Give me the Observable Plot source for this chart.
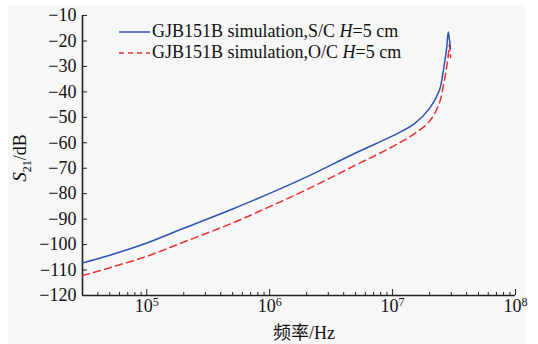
<!DOCTYPE html>
<html><head><meta charset="utf-8">
<script src="https://cdn.jsdelivr.net/npm/d3@7"></script>
<script src="https://cdn.jsdelivr.net/npm/@observablehq/plot@0.6"></script>
<style>
html,body{margin:0;padding:0;background:#ffffff;}
#wrap{position:relative;width:538px;height:344px;overflow:hidden;font-family:"Liberation Serif","Times New Roman",serif;color:#111;}
#bg{position:absolute;left:8px;top:5px;width:518px;height:339px;background:#f7f7f7;}
#chart{position:absolute;left:0;top:0;}
#chart svg text{font-family:"Liberation Serif","Times New Roman",serif;}
#legend{position:absolute;left:119px;top:21px;font-size:18px;line-height:21px;}
#legend .row{display:flex;align-items:center;height:21px;white-space:nowrap;}
#legend svg{width:31px;height:10px;margin-right:2px;}
#ylab{position:absolute;left:22px;top:158px;transform:translate(-50%,-50%) rotate(-90deg);font-size:18px;white-space:nowrap;}
#xlab{position:absolute;left:304px;top:331px;transform:translate(-50%,-50%);font-size:18px;white-space:nowrap;font-family:"Liberation Serif","Noto Sans CJK SC",serif;}
</style></head>
<body><div id="wrap"><div id="bg"></div><div id="chart"></div>
<div id="legend"></div>
<div id="ylab"><i style="font-size:19px">S</i><sub style="font-size:12px">21</sub>/dB</div>
<div id="xlab">频率/Hz</div>
</div>
<script>
// frequency (Hz)
const freq = [3e4, 5e4, 1e5, 2e5, 5e5, 1e6, 2e6, 5e6, 1e7, 1.5e7, 2e7, 2.4e7, 2.6e7, 2.75e7, 2.84e7, 2.9e7, 2.96e7];
// S21 (dB), short-circuit
const scValues = [-107.2, -104.2, -99.4, -93.6, -86.0, -79.9, -73.4, -64.0, -57.3, -52.6, -46.5, -39.5, -31.0, -23.0, -16.5, -19.5, -23.0];
// S21 (dB), open-circuit
const ocValues = [-112.2, -109.1, -104.6, -99.0, -91.5, -85.1, -78.4, -68.8, -61.5, -56.5, -51.5, -44.5, -37.0, -30.5, -25.5, -21.5, -26.5];
const seriesNames = ["GJB151B simulation,S/C", "GJB151B simulation,O/C"];
const seriesColors = ["#2d52b2", "#ee3030"];
const yTicks = [-120, -110, -100, -90, -80, -70, -60, -50, -40, -30, -20, -10];
const xTicks = [1e5, 1e6, 1e7, 1e8];
const xTickBase = "10";
const xTickExponents = ["5", "6", "7", "8"];
const xMinorTicks = [];
for (const e of [4, 5, 6, 7]) for (let m = 2; m <= 9; m++) { const v = m * 10 ** e; if (v > 3e4) xMinorTicks.push(v); }

const scData = freq.map((f, i) => ({f, v: scValues[i]}));
const ocData = freq.map((f, i) => ({f, v: ocValues[i]}));

const chart = Plot.plot({
  width: 538, height: 344,
  marginLeft: 82, marginRight: 23, marginTop: 15, marginBottom: 49,
  style: {background: "transparent", fontSize: "18px", color: "#111"},
  x: {type: "log", domain: [3e4, 1e8], label: null},
  y: {domain: [-120, -10], label: null},
  marks: [
    Plot.axisX(xMinorTicks, {tickSize: -3, fill: "none", stroke: "#222", label: null}),
    Plot.axisX(xTicks, {tickSize: -6, tickPadding: 10, tickFormat: (d) => xTickBase + xTickExponents[xTicks.indexOf(d)], stroke: "#222", label: null}),
    Plot.axisY(yTicks, {tickSize: -5, tickPadding: 11, stroke: "#222", label: null}),
    Plot.ruleX([3e4], {stroke: "#222", strokeWidth: 1.6}),
    Plot.ruleY([-120], {stroke: "#222", strokeWidth: 1.6}),
    Plot.line(ocData, {x: "f", y: "v", stroke: seriesColors[1], strokeWidth: 1.5, strokeDasharray: "7,4.5", curve: "catmull-rom"}),
    Plot.line(scData, {x: "f", y: "v", stroke: seriesColors[0], strokeWidth: 1.5, curve: "catmull-rom"})
  ]
});
document.getElementById("chart").appendChild(chart);

// render exponents as superscripts
chart.querySelectorAll('g[aria-label="x-axis tick label"] text').forEach((t) => {
  const s = t.textContent;
  if (s.startsWith(xTickBase)) {
    const exp = s.slice(xTickBase.length);
    t.textContent = xTickBase;
    const ts = document.createElementNS("http://www.w3.org/2000/svg", "tspan");
    ts.setAttribute("font-size", "12");
    ts.setAttribute("dy", "-6");
    ts.textContent = exp;
    t.appendChild(ts);
  }
});

const legend = document.getElementById("legend");
seriesNames.forEach((name, i) => {
  const row = document.createElement("div");
  row.className = "row";
  row.innerHTML = `<svg viewBox="0 0 31 10"><line x1="0" y1="5" x2="31" y2="5" stroke="${seriesColors[i]}" stroke-width="1.5" ${i === 1 ? 'stroke-dasharray="5,4"' : ''}/></svg><span>${name} <i>H</i>=5 cm</span>`;
  legend.appendChild(row);
});
</script>
</body></html>
